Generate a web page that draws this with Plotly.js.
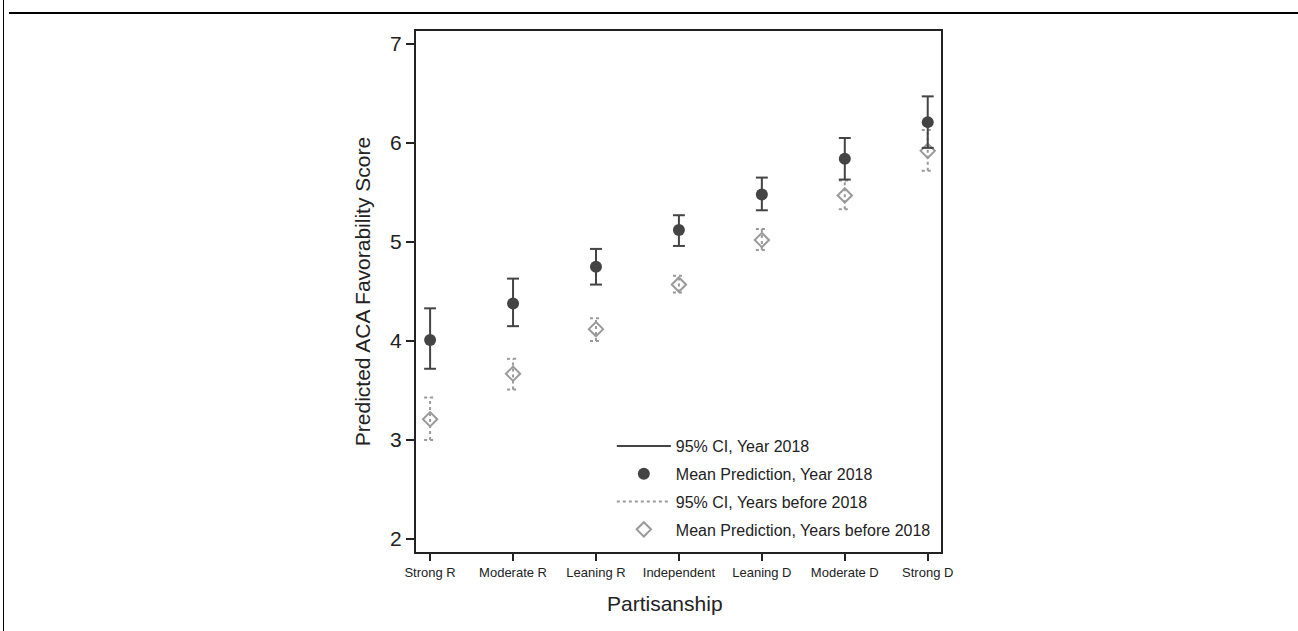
<!DOCTYPE html>
<html>
<head>
<meta charset="utf-8">
<script src="https://cdn.plot.ly/plotly-3.0.1.min.js"></script>
<style>
  html, body { margin: 0; padding: 0; background: #fff; }
  #wrap { position: relative; width: 1298px; height: 631px; overflow: hidden; }
  #chart { position: absolute; left: 0; top: 0; width: 1298px; height: 631px; }
  .rule-top { position: absolute; left: 9px; top: 12px; width: 1289px; height: 2px; background: #000; z-index: 2; }
  .rule-left { position: absolute; left: 3px; top: 0; width: 1px; height: 631px; background: #000; z-index: 2; }
</style>
</head>
<body>
<div id="wrap">
  <div id="chart"></div>
  <div class="rule-top"></div>
  <div class="rule-left"></div>
</div>
<script>
// ---- Data ----
const categories = ["Strong R", "Moderate R", "Leaning R", "Independent", "Leaning D", "Moderate D", "Strong D"];

const mean2018 = [4.01, 4.38, 4.75, 5.12, 5.48, 5.84, 6.21];
const lo2018   = [3.72, 4.15, 4.57, 4.96, 5.32, 5.63, 5.95];
const hi2018   = [4.33, 4.63, 4.93, 5.27, 5.65, 6.05, 6.47];

const meanBefore = [3.21, 3.67, 4.12, 4.57, 5.02, 5.47, 5.92];
const loBefore   = [3.00, 3.51, 4.00, 4.49, 4.92, 5.33, 5.72];
const hiBefore   = [3.43, 3.82, 4.23, 4.66, 5.13, 5.62, 6.13];

const yTicks = [2, 3, 4, 5, 6, 7];

const xTitle = "Partisanship";
const yTitle = "Predicted ACA Favorability Score";

// ---- Helpers: build CI segments (vertical line + caps) from the arrays ----
const CAP = 0.072; // half cap width in category units
function ciPath(lo, hi) {
  const xs = [], ys = [];
  lo.forEach((l, i) => {
    const h = hi[i];
    xs.push(i, i, null, i - CAP, i + CAP, null, i - CAP, i + CAP, null);
    ys.push(l, h, null, h, h, null, l, l, null);
  });
  return { x: xs, y: ys };
}
const idx = categories.map((_, i) => i);

const ci18 = ciPath(lo2018, hi2018);
const ciB = ciPath(loBefore, hiBefore);

const dark = "#444444";
const grey = "#9a9a9a";

const traces = [
  {
    x: ciB.x, y: ciB.y, type: "scatter", mode: "lines",
    name: "95% CI, Years before 2018",
    line: { color: grey, width: 2, dash: "3px,3px" },
    legendrank: 3, legendgroup: "c", hoverinfo: "skip"
  },
  {
    x: idx, y: meanBefore, type: "scatter", mode: "markers",
    name: "Mean Prediction, Years before 2018",
    marker: { symbol: "diamond-open", size: 11, color: grey, line: { width: 2, color: grey } },
    legendrank: 4, legendgroup: "d"
  },
  {
    x: ci18.x, y: ci18.y, type: "scatter", mode: "lines",
    name: "95% CI, Year 2018",
    line: { color: dark, width: 2 },
    legendrank: 1, legendgroup: "a", hoverinfo: "skip"
  },
  {
    x: idx, y: mean2018, type: "scatter", mode: "markers",
    name: "Mean Prediction, Year 2018",
    marker: { symbol: "circle", size: 12, color: dark },
    legendrank: 2, legendgroup: "b"
  }
];

const FONT = "Liberation Sans, Arial, Helvetica, sans-serif";

const layout = {
  width: 1298, height: 631,
  margin: { l: 416, r: 357, t: 31, b: 79, pad: 0 },
  paper_bgcolor: "#ffffff",
  plot_bgcolor: "#ffffff",
  font: { family: FONT, color: "#222222" },
  showlegend: true,
  legend: {
    x: 0.373, y: 0.236, xanchor: "left", yanchor: "top",
    bgcolor: "rgba(255,255,255,0)",
    font: { size: 16, family: FONT, color: "#222222" },
    itemwidth: 54,
    tracegroupgap: 4,
    traceorder: "grouped"
  },
  annotations: [
    {
      text: xTitle, xref: "paper", yref: "paper",
      x: 0.475, y: -0.098, xanchor: "center", yanchor: "middle",
      showarrow: false, font: { size: 21, family: FONT, color: "#222222" }
    }
  ],
  xaxis: {
    range: [-0.17, 6.16],
    tickmode: "array",
    tickvals: idx,
    ticktext: categories,
    tickfont: { size: 13, family: FONT, color: "#222222" },
    ticks: "outside", ticklen: 7, tickwidth: 2, tickcolor: "#222222",
    showgrid: false, zeroline: false,
    showline: true, linecolor: "#222222", linewidth: 2, mirror: true
  },
  yaxis: {
    range: [1.87, 7.13],
    tickmode: "array",
    tickvals: yTicks,
    tickfont: { size: 21, family: FONT, color: "#222222" },
    ticks: "outside", ticklen: 8, tickwidth: 2, tickcolor: "#222222",
    showgrid: false, zeroline: false,
    showline: true, linecolor: "#222222", linewidth: 2, mirror: true,
    title: { text: yTitle, font: { size: 21, family: FONT, color: "#222222" }, standoff: 14 }
  }
};

Plotly.newPlot("chart", traces, layout, { displayModeBar: false, staticPlot: true });
</script>
</body>
</html>
